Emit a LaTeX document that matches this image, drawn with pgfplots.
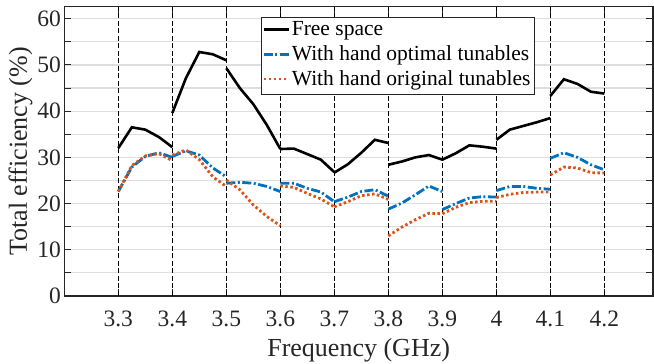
\documentclass[border=0pt]{standalone}
\usepackage{fontspec}
\setmainfont{Liberation Serif}
\usepackage{pgfplots}
\pgfplotsset{compat=1.18}
\definecolor{mblue}{rgb}{0,0.447,0.741}
\definecolor{morange}{rgb}{0.85,0.325,0.098}
\definecolor{axgray}{HTML}{262626}
\definecolor{gridgray}{HTML}{DEDEDE}
\begin{document}
\begin{tikzpicture}
\begin{axis}[
  scale only axis,
  width=588.7pt, height=289.3pt,
  xmin=3.2, xmax=4.29, ymin=0, ymax=62.6,
  xtick={3.3,3.4,3.5,3.6,3.7,3.8,3.9,4.0,4.1,4.2},
  xticklabels={3.3,3.4,3.5,3.6,3.7,3.8,3.9,4,4.1,4.2},
  ytick={0,10,20,30,40,50,60},
  yticklabels={0,10,20,30,40,50,60},
  minor ytick={5,15,25,35,45,55},
  ymajorgrids, yminorgrids,
  major grid style={gridgray, line width=1.2pt},
  minor grid style={gridgray, line width=1.2pt},
  tick align=inside,
  major tick length=7pt, minor tick length=7pt,
  tick style={axgray, line width=1pt},
  axis line style={axgray, line width=1.3pt},
  ticklabel style={font=\fontsize{23.5}{26}\selectfont, text=axgray},
  xticklabel style={anchor=base, yshift=-30.7pt},
  xlabel={Frequency (GHz)},
  ylabel={Total efficiency (\%)},
  label style={font=\fontsize{26}{30}\selectfont, text=axgray},
  xlabel style={at={(axis description cs:0.5,0)}, anchor=base, yshift=-60.7pt},
  ylabel style={at={(axis description cs:0,0.5)}, anchor=north, inner sep=0pt, yshift=56pt},
  unbounded coords=jump,
  legend style={at={(axis description cs:0.3335,0.965)}, anchor=north west,
    font=\fontsize{21.5}{24}\selectfont, draw=axgray, fill=white,
    inner sep=1.5pt, row sep=0pt, nodes={inner sep=1.8pt, text height=15.5pt, text depth=5.5pt},
    /tikz/every even column/.append style={column sep=0pt}},
  legend cell align=left,
  legend image code/.code={\draw[#1, line width=2.7pt] (0pt,1pt) -- (25pt,1pt);},
]
\addplot[ycomb, black, line width=1.5pt, dash pattern=on 5pt off 2.5pt, no marks, forget plot]
  coordinates {(3.3,62.6)(3.4,62.6)(3.5,62.6)(3.6,62.6)(3.7,62.6)(3.8,62.6)(3.9,62.6)(4.0,62.6)(4.1,62.6)(4.2,62.6)};
\addplot[black, line width=2.6pt, no marks] coordinates {
(3.3,32.0)(3.325,36.5)(3.35,36.0)(3.375,34.4)(3.4,32.2)
(3.4,nan)
(3.4,39.6)(3.425,47.1)(3.45,52.8)(3.475,52.3)(3.5,51.0)
(3.5,nan)
(3.5,49.3)(3.525,45.0)(3.55,41.5)(3.575,37.0)(3.6,31.8)
(3.6,nan)
(3.6,31.8)(3.625,31.9)(3.65,30.7)(3.675,29.5)(3.7,26.8)
(3.7,nan)
(3.7,26.7)(3.725,28.5)(3.75,31.0)(3.775,33.8)(3.8,33.1)
(3.8,nan)
(3.8,28.4)(3.825,29.1)(3.85,30.0)(3.875,30.5)(3.9,29.5)
(3.9,nan)
(3.9,29.5)(3.925,30.9)(3.95,32.6)(3.975,32.3)(4.0,31.9)
(4.0,nan)
(4.0,33.8)(4.025,36.0)(4.05,36.8)(4.075,37.6)(4.1,38.5)
(4.1,nan)
(4.1,43.3)(4.125,46.9)(4.15,45.9)(4.175,44.2)(4.2,43.8)
};
\addlegendentry{Free space}
\addplot[mblue, line width=2.8pt, no marks, dash pattern=on 9pt off 2.5pt on 2pt off 2.5pt] coordinates {
(3.3,22.6)(3.325,27.9)(3.35,30.2)(3.375,31.0)(3.4,30.0)
(3.4,nan)
(3.4,30.2)(3.425,31.4)(3.45,30.5)(3.475,27.7)(3.5,25.8)
(3.5,nan)
(3.5,24.4)(3.525,24.6)(3.55,24.4)(3.575,23.7)(3.6,22.6)
(3.6,nan)
(3.6,24.4)(3.625,24.4)(3.65,23.3)(3.675,22.5)(3.7,20.4)
(3.7,nan)
(3.7,20.4)(3.725,21.4)(3.75,22.6)(3.775,23.0)(3.8,21.6)
(3.8,nan)
(3.8,18.8)(3.825,20.1)(3.85,21.9)(3.875,23.8)(3.9,22.6)
(3.9,nan)
(3.9,18.7)(3.925,20.0)(3.95,21.2)(3.975,21.5)(4.0,21.4)
(4.0,nan)
(4.0,22.8)(4.025,23.7)(4.05,23.7)(4.075,23.3)(4.1,23.1)
(4.1,nan)
(4.1,29.8)(4.125,31.0)(4.15,30.0)(4.175,28.4)(4.2,27.3)
};
\addlegendentry{With hand optimal tunables}
\addplot[morange, line width=2.8pt, no marks, dash pattern=on 2.5pt off 2.5pt] coordinates {
(3.3,22.6)(3.325,28.2)(3.35,30.3)(3.375,30.8)(3.4,29.3)
(3.4,nan)
(3.4,30.5)(3.425,31.6)(3.45,29.5)(3.475,25.8)(3.5,23.7)
(3.5,nan)
(3.5,25.1)(3.525,23.0)(3.55,19.7)(3.575,17.2)(3.6,15.2)
(3.6,nan)
(3.6,23.8)(3.625,23.5)(3.65,22.2)(3.675,21.0)(3.7,19.3)
(3.7,nan)
(3.7,19.3)(3.725,20.4)(3.75,21.7)(3.775,22.1)(3.8,20.9)
(3.8,nan)
(3.8,13.0)(3.825,14.9)(3.85,16.5)(3.875,17.9)(3.9,17.8)
(3.9,nan)
(3.9,17.8)(3.925,19.2)(3.95,20.2)(3.975,20.5)(4.0,20.5)
(4.0,nan)
(4.0,21.3)(4.025,22.0)(4.05,22.4)(4.075,22.5)(4.1,22.5)
(4.1,nan)
(4.1,26.2)(4.125,27.9)(4.15,27.7)(4.175,26.7)(4.2,26.6)
};
\addlegendentry{With hand original tunables}
\end{axis}
\pgfresetboundingbox
\path ([shift={(-64.3pt,-68pt)}]current axis.south west) rectangle ([shift={(1pt,6.7pt)}]current axis.north east);
\end{tikzpicture}
\end{document}
